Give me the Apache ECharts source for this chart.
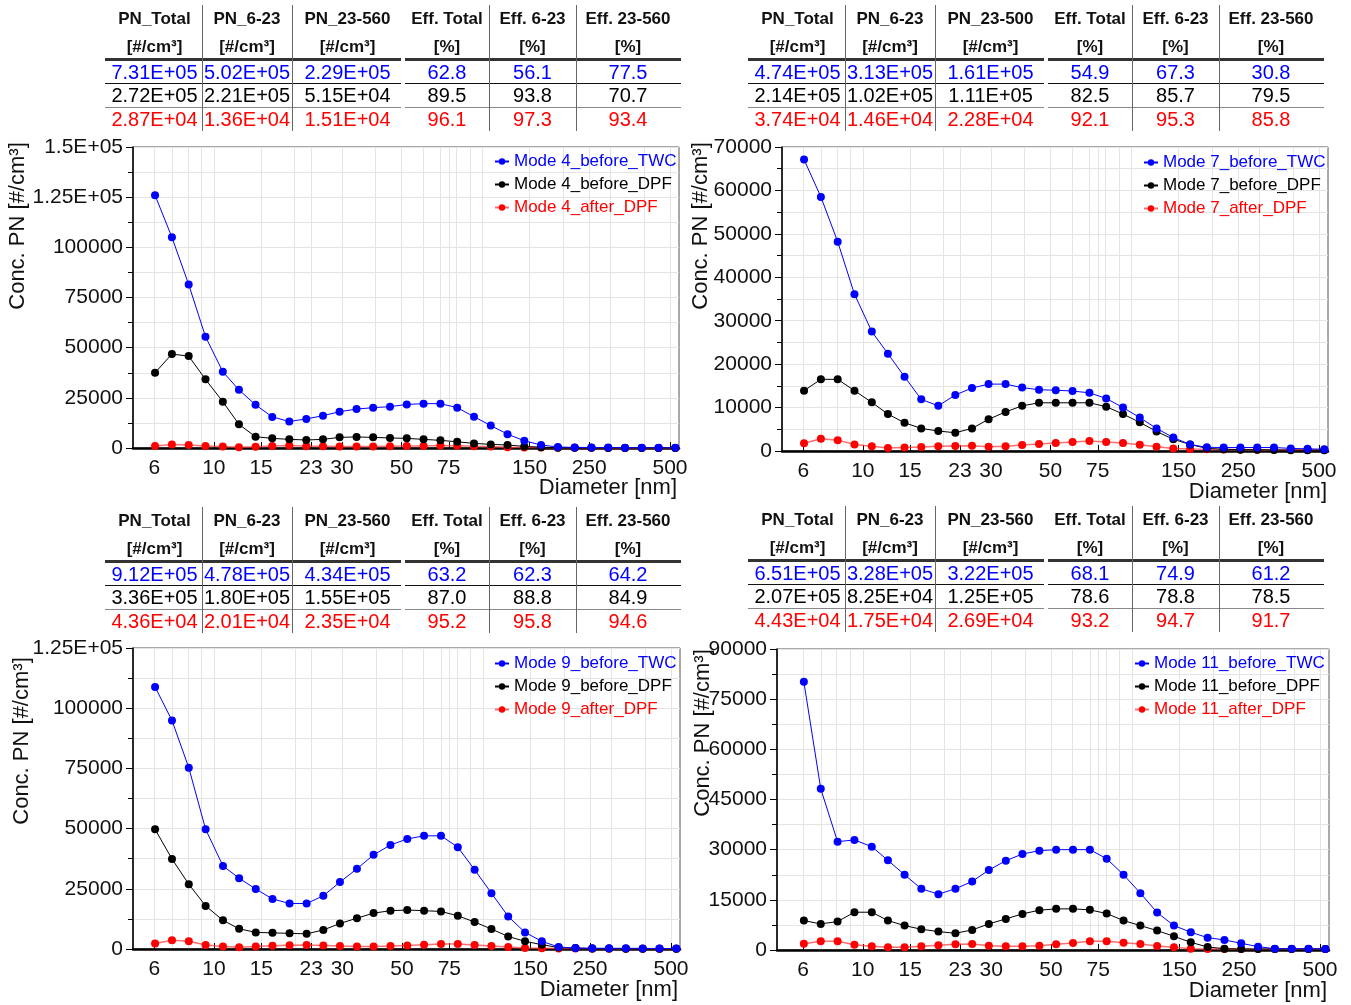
<!DOCTYPE html>
<html>
<head>
<meta charset="utf-8">
<script src="https://cdn.jsdelivr.net/npm/echarts@6/dist/echarts.min.js"></script>
<style>
html,body{margin:0;padding:0;background:#fff;}
#wrap{position:relative;width:1351px;height:1005px;overflow:hidden;font-family:"Liberation Sans",Arial,sans-serif;}
#chart{position:absolute;left:0;top:0;width:1351px;height:1005px;}
.cell{position:absolute;text-align:center;white-space:nowrap;line-height:20px;height:20px;}
.hdr{font-weight:bold;font-size:17px;color:#111;}
.dat{font-size:20px;}
.ln{position:absolute;}
</style>
</head>
<body>
<div id="wrap"><div id="chart"></div></div>
<script>
// ---------- data ----------
const diameters = [6.04, 6.98, 8.06, 9.31, 10.8, 12.4, 14.3, 16.5, 19.1, 22.1, 25.5, 29.4, 34.0, 39.2, 45.3, 52.3,
  60.4, 69.8, 80.6, 93.1, 107.5, 124.1, 143.3, 165.5, 191.1, 220.7, 254.8, 294.3, 339.8, 392.4, 453.2, 523.3];

const xTickLabels = [6, 10, 15, 23, 30, 50, 75, 150, 250, 500];
const xGridValues = [6, 7, 8, 9, 10, 15, 20, 23, 30, 40, 50, 60, 70, 75, 80, 90, 100, 150, 200, 250, 300, 400, 500];

const mode4_before_TWC = [126000, 105000, 81500, 55500, 38000, 29000, 21500, 15500, 13200, 14500, 16100, 18100, 19400, 20100, 20600, 21700,
  22100, 22100, 20100, 15600, 11200, 6900, 3600, 1500, 500, 300, 250, 200, 150, 120, 100, 80];
const mode4_before_DPF = [37500, 46800, 45800, 34200, 23100, 11800, 5600, 4800, 4300, 4000, 4300, 5300, 5500, 5300, 5000, 4800,
  4300, 3800, 3100, 2300, 1800, 1500, 800, 400, 150, 100, 80, 60, 50, 40, 30, 30];
const mode4_after_DPF = [1000, 1800, 1500, 1000, 800, 400, 600, 1000, 1200, 900, 900, 700, 700, 700, 900, 1000,
  1000, 1200, 1100, 900, 800, 400, 300, 200, 150, 100, 80, 60, 50, 40, 30, 30];

const mode7_before_TWC = [67100, 58500, 48200, 36100, 27500, 22400, 17100, 11900, 10400, 12900, 14500, 15400, 15400, 14600, 14100, 14000,
  13800, 13400, 12100, 10000, 7700, 5200, 3100, 1500, 850, 800, 800, 800, 800, 600, 500, 400];
const mode7_before_DPF = [13900, 16500, 16500, 13900, 11200, 8500, 6500, 5200, 4600, 4200, 5200, 7300, 9000, 10400, 11100, 11100,
  11100, 11100, 10200, 8500, 6600, 4500, 2700, 1500, 600, 400, 300, 300, 250, 200, 200, 200];
const mode7_after_DPF = [1800, 2800, 2500, 1500, 1100, 700, 800, 900, 1100, 1150, 1200, 1000, 1100, 1400, 1600, 1850,
  2100, 2300, 2100, 1850, 1450, 1000, 600, 450, 400, 350, 350, 300, 300, 300, 300, 300];

const mode9_before_TWC = [108800, 94900, 75300, 49700, 34500, 29400, 24900, 20800, 18900, 18900, 22100, 27800, 33300, 39100, 43200, 45700,
  47000, 47000, 42300, 32900, 23200, 13500, 6900, 3200, 800, 400, 300, 300, 300, 250, 200, 200];
const mode9_before_DPF = [49700, 37400, 26900, 17900, 11900, 8400, 6900, 6700, 6500, 6300, 7900, 10600, 12800, 14900, 15900, 16200,
  15900, 15600, 13800, 11200, 8300, 5200, 3200, 1800, 600, 400, 200, 200, 150, 100, 100, 100];
const mode9_after_DPF = [2300, 3600, 3200, 1700, 1000, 700, 1000, 1400, 1600, 1700, 1500, 1200, 1000, 1000, 1200, 1500,
  1800, 2100, 2100, 1700, 1200, 800, 400, 300, 200, 200, 150, 150, 100, 100, 100, 100];

const mode11_before_TWC = [80200, 48200, 32400, 32900, 30900, 26800, 22500, 18300, 16700, 18300, 20500, 23900, 26700, 28700, 29700, 30000,
  30000, 30000, 27300, 22500, 17000, 11200, 7300, 5300, 3700, 3000, 2000, 1000, 400, 400, 400, 300];
const mode11_before_DPF = [8800, 7800, 8500, 11300, 11300, 8800, 7300, 6200, 5500, 5000, 6000, 7800, 9300, 10800, 11900, 12300,
  12300, 12000, 10900, 8800, 7300, 5800, 4100, 2300, 900, 400, 300, 300, 300, 300, 300, 300];
const mode11_after_DPF = [1900, 2600, 2600, 1600, 1100, 800, 800, 1100, 1400, 1700, 1800, 1300, 1100, 1100, 1300, 1700,
  2100, 2600, 2600, 2200, 1800, 1200, 800, 400, 300, 300, 300, 300, 300, 300, 300, 300];

// tables
const unitsRow = ["[#/cm³]", "[#/cm³]", "[#/cm³]", "[%]", "[%]", "[%]"];
const headers4 = ["PN_Total", "PN_6-23", "PN_23-560", "Eff. Total", "Eff. 6-23", "Eff. 23-560"];
const table4_TWC = ["7.31E+05", "5.02E+05", "2.29E+05", "62.8", "56.1", "77.5"];
const table4_DPF = ["2.72E+05", "2.21E+05", "5.15E+04", "89.5", "93.8", "70.7"];
const table4_after = ["2.87E+04", "1.36E+04", "1.51E+04", "96.1", "97.3", "93.4"];
const headers7 = ["PN_Total", "PN_6-23", "PN_23-500", "Eff. Total", "Eff. 6-23", "Eff. 23-560"];
const table7_TWC = ["4.74E+05", "3.13E+05", "1.61E+05", "54.9", "67.3", "30.8"];
const table7_DPF = ["2.14E+05", "1.02E+05", "1.11E+05", "82.5", "85.7", "79.5"];
const table7_after = ["3.74E+04", "1.46E+04", "2.28E+04", "92.1", "95.3", "85.8"];
const headers9 = ["PN_Total", "PN_6-23", "PN_23-560", "Eff. Total", "Eff. 6-23", "Eff. 23-560"];
const table9_TWC = ["9.12E+05", "4.78E+05", "4.34E+05", "63.2", "62.3", "64.2"];
const table9_DPF = ["3.36E+05", "1.80E+05", "1.55E+05", "87.0", "88.8", "84.9"];
const table9_after = ["4.36E+04", "2.01E+04", "2.35E+04", "95.2", "95.8", "94.6"];
const headers11 = ["PN_Total", "PN_6-23", "PN_23-560", "Eff. Total", "Eff. 6-23", "Eff. 23-560"];
const table11_TWC = ["6.51E+05", "3.28E+05", "3.22E+05", "68.1", "74.9", "61.2"];
const table11_DPF = ["2.07E+05", "8.25E+04", "1.25E+05", "78.6", "78.8", "78.5"];
const table11_after = ["4.43E+04", "1.75E+04", "2.69E+04", "93.2", "94.7", "91.7"];

// ---------- layout ----------
const FONT = '"Liberation Sans", Arial, sans-serif';
const COLORS = ['#0000ff', '#000000', '#ff0000'];
const LINECOLORS = ['#0000ff', '#000000', 'rgba(255,60,60,0.75)'];

const panels = [
  { mode: '4', series: [mode4_before_TWC, mode4_before_DPF, mode4_after_DPF], grid: {left: 133, top: 147, width: 546, height: 301},
    xmin: 5, xmax: 540, ymax: 150000, yint: 25000, legend: {left: 494, top: 153},
    yname: {x: 18, y: 226}, xname: {x: 677, y: 488},
    table: {x: 107, y: 1, headers: headers4, rows: [table4_TWC, table4_DPF, table4_after]} },
  { mode: '7', series: [mode7_before_TWC, mode7_before_DPF, mode7_after_DPF], grid: {left: 782, top: 147, width: 546, height: 304},
    xmin: 5, xmax: 540, ymax: 70000, yint: 10000, legend: {left: 1143, top: 154},
    yname: {x: 701, y: 226}, xname: {x: 1327, y: 492},
    table: {x: 750, y: 1, headers: headers7, rows: [table7_TWC, table7_DPF, table7_after]} },
  { mode: '9', series: [mode9_before_TWC, mode9_before_DPF, mode9_after_DPF], grid: {left: 133, top: 648, width: 547, height: 301},
    xmin: 5, xmax: 540, ymax: 125000, yint: 25000, legend: {left: 494, top: 655},
    yname: {x: 22, y: 741}, xname: {x: 678, y: 990},
    table: {x: 107, y: 503, headers: headers9, rows: [table9_TWC, table9_DPF, table9_after]} },
  { mode: '11', series: [mode11_before_TWC, mode11_before_DPF, mode11_after_DPF], grid: {left: 777, top: 649, width: 552, height: 301},
    xmin: 4.8, xmax: 540, ymax: 90000, yint: 15000, legend: {left: 1134, top: 655},
    yname: {x: 703, y: 733}, xname: {x: 1327, y: 991},
    table: {x: 750, y: 502, headers: headers11, rows: [table11_TWC, table11_DPF, table11_after]} }
];
const suffixes = ['_before_TWC', '_before_DPF', '_after_DPF'];

function yFmt(v) {
  if (v > 100000) {
    const e = Math.floor(Math.log10(v));
    const m = v / Math.pow(10, e);
    const ms = parseFloat(m.toFixed(2)).toString();
    return ms + 'E+' + (e < 10 ? '0' + e : e);
  }
  return String(v);
}

const grids = [], xAxes = [], yAxes = [], series = [], legends = [], graphics = [];
panels.forEach((p, i) => {
  grids.push(Object.assign({show: true, borderColor: '#555', borderWidth: 1, containLabel: false}, p.grid));
  // main x axis (labels + ticks)
  xAxes.push({
    type: 'log', logBase: 10, gridIndex: i, min: p.xmin, max: p.xmax,
    axisLine: {show: true, lineStyle: {color: '#000', width: 2.5}},
    axisTick: {show: true, inside: true, length: 6, customValues: xTickLabels, lineStyle: {color: '#000', width: 1}},
    axisLabel: {show: true, customValues: xTickLabels, fontSize: 21, fontFamily: FONT, color: '#111', margin: 10,
      formatter: v => String(Math.round(v))},
    splitLine: {show: false}, minorTick: {show: false}, minorSplitLine: {show: false}
  });
  // helper x axis (gridlines)
  xAxes.push({
    type: 'log', logBase: 10, gridIndex: i, min: p.xmin, max: p.xmax, position: 'bottom',
    axisLine: {show: false}, axisLabel: {show: false},
    axisTick: {show: false, customValues: xGridValues},
    splitLine: {show: true, lineStyle: {color: '#e4e4e4', width: 1}}
  });
  yAxes.push({
    type: 'value', gridIndex: i, min: 0, max: p.ymax, interval: p.yint,
    axisLine: {show: true, lineStyle: {color: '#000', width: 1.5}},
    axisTick: {show: true, inside: false, length: 7, lineStyle: {color: '#000'}},
    minorTick: {show: true, splitNumber: 2, length: 5, lineStyle: {color: '#000'}},
    splitLine: {show: true, lineStyle: {color: '#e4e4e4'}},
    minorSplitLine: {show: true, lineStyle: {color: '#e4e4e4'}},
    axisLabel: {fontSize: 21, fontFamily: FONT, color: '#111', margin: 10, formatter: yFmt}
  });
  const names = [];
  p.series.forEach((vals, k) => {
    const name = 'Mode ' + p.mode + suffixes[k];
    names.push({name: name, textStyle: {color: COLORS[k]}});
    series.push({
      name: name, type: 'line', xAxisIndex: 2 * i, yAxisIndex: i,
      data: diameters.map((d, j) => [d, vals[j]]),
      symbol: 'circle', symbolSize: 8, showSymbol: true,
      itemStyle: {color: COLORS[k]},
      lineStyle: {color: LINECOLORS[k], width: k === 2 ? 1.5 : 1},
      z: 10 - k, animation: false
    });
  });
  legends.push({
    data: names, orient: 'vertical', left: p.legend.left, top: p.legend.top, padding: 0,
    itemWidth: 14, itemHeight: 8, itemGap: 6,
    textStyle: {fontSize: 17, fontFamily: FONT, lineHeight: 17},
    selectedMode: false
  });
  graphics.push({
    type: 'text', x: p.yname.x, y: p.yname.y, rotation: Math.PI / 2,
    style: {text: 'Conc. PN [#/cm³]', font: '22px ' + FONT, fill: '#111', align: 'center', verticalAlign: 'middle'}
  });
  graphics.push({
    type: 'text', x: p.xname.x, y: p.xname.y,
    style: {text: 'Diameter [nm]', font: '22px ' + FONT, fill: '#111', align: 'right', verticalAlign: 'middle'}
  });
});

const chart = echarts.init(document.getElementById('chart'), null, {renderer: 'canvas'});
chart.setOption({
  animation: false,
  grid: grids, xAxis: xAxes, yAxis: yAxes, series: series, legend: legends, graphic: graphics
});

// ---------- tables ----------
const wrap = document.getElementById('wrap');
const colEdges = [[0, 95], [95, 185], [185, 296], [298, 382], [382, 469], [469, 573]];
function addDiv(cls, x, y, w, h, css, text) {
  const d = document.createElement('div');
  d.className = cls;
  d.style.left = x + 'px'; d.style.top = y + 'px';
  if (w != null) d.style.width = w + 'px';
  if (h != null) d.style.height = h + 'px';
  if (css) d.style.cssText += css;
  if (text != null) d.textContent = text;
  wrap.appendChild(d);
  return d;
}
panels.forEach(p => {
  const t = p.table, x0 = t.x, y0 = t.y;
  colEdges.forEach((c, ci) => {
    const w = c[1] - c[0];
    addDiv('cell hdr', x0 + c[0], y0 + 8, w, 20, '', t.headers[ci]);
    addDiv('cell hdr', x0 + c[0], y0 + 36, w, 20, '', unitsRow[ci]);
    t.rows.forEach((r, ri) => {
      const yc = [71, 94, 118][ri];
      addDiv('cell dat', x0 + c[0], y0 + yc - 10, w, 20, 'color:' + COLORS[ri] + ';', r[ci]);
    });
  });
  // thick header lines
  addDiv('ln', x0 - 2, y0 + 57, 296, 3, 'background:#333;');
  addDiv('ln', x0 + 298, y0 + 57, 276, 3, 'background:#333;');
  // row lines
  addDiv('ln', x0 - 2, y0 + 82, 296, 1, 'background:#111;');
  addDiv('ln', x0 + 298, y0 + 82, 276, 1, 'background:#111;');
  addDiv('ln', x0 - 2, y0 + 106, 296, 1, 'background:#888;');
  addDiv('ln', x0 + 298, y0 + 106, 276, 1, 'background:#888;');
  // vertical separators
  [95, 185, 382, 469].forEach(vx => addDiv('ln', x0 + vx, y0 + 4, 1, 126, 'background:#666;'));
});
</script>
</body>
</html>
